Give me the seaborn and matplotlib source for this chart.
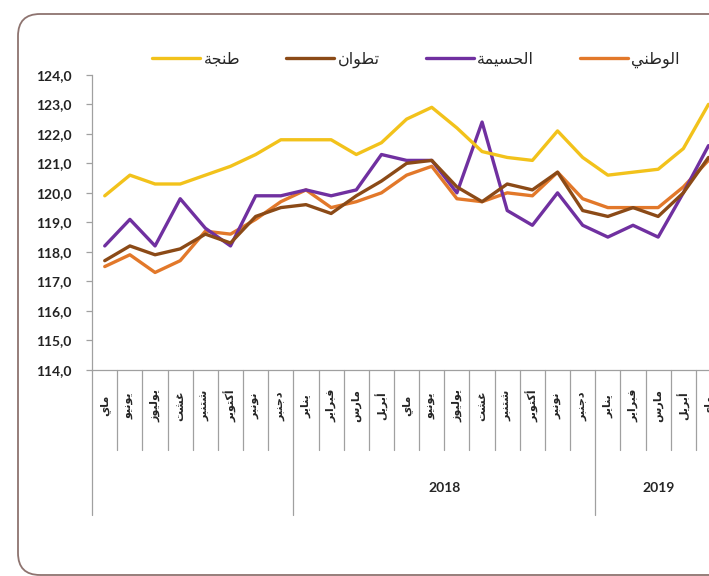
import numpy as np
import pandas as pd
import matplotlib
matplotlib.use("Agg")
import matplotlib.pyplot as plt
import matplotlib.transforms as mtransforms
from matplotlib.patches import FancyBboxPatch
from matplotlib.ticker import FuncFormatter
import seaborn as sns

# ── Data ───────────────────────────────────────────────
MONTHS = ["ماي", "يونيو", "يوليوز", "غشت", "شتنبر", "أكتوبر", "نونبر", "دجنبر",
          "يناير", "فبراير", "مارس", "أبريل", "ماي", "يونيو", "يوليوز", "غشت",
          "شتنبر", "أكتوبر", "نونبر", "دجنبر",
          "يناير", "فبراير", "مارس", "أبريل", "ماي"]
YEAR_LABELS = ["", "2018", "2019"]
YEAR_SIZES = [8, 12, 5]

SERIES = ["الوطني", "الحسيمة", "تطوان", "طنجة"]
national = [117.5, 117.9, 117.3, 117.7, 118.7, 118.6, 119.1, 119.7, 120.1, 119.5,
            119.7, 120.0, 120.6, 120.9, 119.8, 119.7, 120.0, 119.9, 120.7, 119.8,
            119.5, 119.5, 119.5, 120.2, 121.1]
hoceima = [118.2, 119.1, 118.2, 119.8, 118.8, 118.2, 119.9, 119.9, 120.1, 119.9,
           120.1, 121.3, 121.1, 121.1, 120.0, 122.4, 119.4, 118.9, 120.0, 118.9,
           118.5, 118.9, 118.5, 120.0, 121.6]
tetouan = [117.7, 118.2, 117.9, 118.1, 118.6, 118.3, 119.2, 119.5, 119.6, 119.3,
           119.9, 120.4, 121.0, 121.1, 120.2, 119.7, 120.3, 120.1, 120.7, 119.4,
           119.2, 119.5, 119.2, 120.0, 121.2]
tanger = [119.9, 120.6, 120.3, 120.3, 120.6, 120.9, 121.3, 121.8, 121.8, 121.8,
          121.3, 121.7, 122.5, 122.9, 122.2, 121.4, 121.2, 121.1, 122.1, 121.2,
          120.6, 120.7, 120.8, 121.5, 123.0]
COLORS = ["#E2782A", "#7030A0", "#8B4A17", "#F2C21B"]

# ── Arabic shaping (matplotlib has no bidi / joining) ──
FORMS = {  # isolated, final, initial, medial
    "ا": ("\uFE8D", "\uFE8E", None, None), "أ": ("\uFE83", "\uFE84", None, None),
    "د": ("\uFEA9", "\uFEAA", None, None), "ر": ("\uFEAD", "\uFEAE", None, None),
    "ز": ("\uFEAF", "\uFEB0", None, None), "و": ("\uFEED", "\uFEEE", None, None),
    "ة": ("\uFE93", "\uFE94", None, None),
    "ب": ("\uFE8F", "\uFE90", "\uFE91", "\uFE92"), "ت": ("\uFE95", "\uFE96", "\uFE97", "\uFE98"),
    "ج": ("\uFE9D", "\uFE9E", "\uFE9F", "\uFEA0"), "ح": ("\uFEA1", "\uFEA2", "\uFEA3", "\uFEA4"),
    "س": ("\uFEB1", "\uFEB2", "\uFEB3", "\uFEB4"), "ش": ("\uFEB5", "\uFEB6", "\uFEB7", "\uFEB8"),
    "ط": ("\uFEC1", "\uFEC2", "\uFEC3", "\uFEC4"), "غ": ("\uFECD", "\uFECE", "\uFECF", "\uFED0"),
    "ف": ("\uFED1", "\uFED2", "\uFED3", "\uFED4"), "ك": ("\uFED9", "\uFEDA", "\uFEDB", "\uFEDC"),
    "ل": ("\uFEDD", "\uFEDE", "\uFEDF", "\uFEE0"), "م": ("\uFEE1", "\uFEE2", "\uFEE3", "\uFEE4"),
    "ن": ("\uFEE5", "\uFEE6", "\uFEE7", "\uFEE8"), "ي": ("\uFEF1", "\uFEF2", "\uFEF3", "\uFEF4"),
}


def ar(word):
    out = []
    for i, ch in enumerate(word):
        if ch not in FORMS:
            out.append(ch)
            continue
        iso, fin, ini, med = FORMS[ch]
        prev_j = i > 0 and word[i - 1] in FORMS and FORMS[word[i - 1]][2] is not None
        next_j = ini is not None and i < len(word) - 1 and word[i + 1] in FORMS
        out.append(med if prev_j and next_j else fin if prev_j else ini if next_j else iso)
    return "".join(reversed(out))


# ── Style ──────────────────────────────────────────────
sns.set_style("white")
plt.rcParams["font.family"] = ["Lato", "DejaVu Sans"]

df = pd.DataFrame({"pos": np.arange(len(MONTHS))})
for name, vals in zip(SERIES, [national, hoceima, tetouan, tanger]):
    df[name] = vals
long_df = df.melt(id_vars="pos", var_name="series", value_name="value")

fig = plt.figure(figsize=(7.09, 5.76), dpi=100)
ax = fig.add_axes([0.130, 0.358, 0.887, 0.512])

sns.lineplot(data=long_df, x="pos", y="value", hue="series", hue_order=SERIES,
             palette=COLORS, linewidth=2.4, legend=False, ax=ax)

ax.set_xlim(-0.5, len(MONTHS) - 0.5)
ax.set_ylim(114, 124)
ax.set_yticks(np.arange(114, 124.1, 1))
ax.yaxis.set_major_formatter(FuncFormatter(lambda v, _: f"{v:.1f}".replace(".", ",")))
ax.tick_params(axis="y", length=4, width=0.9, color="#A0A0A0", pad=11,
               labelsize=10, left=True)
for lab in ax.get_yticklabels():
    lab.set_fontweight("bold")
    lab.set_color("#222222")
ax.set_xticks([])
ax.set_xlabel("")
ax.set_ylabel("")
for side in ["top", "right"]:
    ax.spines[side].set_visible(False)
for side in ["left", "bottom"]:
    ax.spines[side].set_color("#A0A0A0")
    ax.spines[side].set_linewidth(0.9)

# multi-level category axis
trans = mtransforms.blended_transform_factory(ax.transData, ax.transAxes)
for i, m in enumerate(MONTHS):
    ax.text(i, -0.122, ar(m), rotation=90, ha="center", va="center", fontsize=8,
            fontweight="bold", transform=trans, family="DejaVu Sans")
group_starts = np.cumsum([0] + YEAR_SIZES)
for b in range(len(MONTHS) + 1):
    tall = b in group_starts
    ax.plot([b - 0.5, b - 0.5], [0, -0.492 if tall else -0.271], color="#A0A0A0",
            lw=0.9, transform=trans, clip_on=False)
for lab, s, n in zip(YEAR_LABELS, group_starts[:-1], YEAR_SIZES):
    ax.text(s + (n - 1) / 2, -0.40, lab, ha="center", va="center", fontsize=10,
            fontweight="bold", transform=trans)

# legend
handles = ax.get_lines()[:len(SERIES)]
order = [3, 2, 1, 0]
leg = fig.legend([handles[k] for k in order], [ar(SERIES[k]) for k in order],
                 loc="center", bbox_to_anchor=(416 / 709, 1 - 60 / 576), ncol=4,
                 frameon=False, handlelength=3.0, handletextpad=0.2,
                 columnspacing=2.9, prop={"family": "DejaVu Sans", "size": 11.5})

# rounded chart border
border = FancyBboxPatch((18, 1), 730, 561, boxstyle="round,pad=0,rounding_size=22",
                        transform=mtransforms.IdentityTransform(), fill=False,
                        edgecolor="#8E7470", linewidth=1.3)
fig.patches.append(border)

fig.savefig("out.png", dpi=100)
